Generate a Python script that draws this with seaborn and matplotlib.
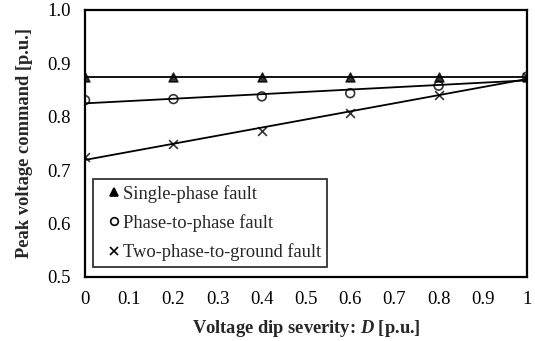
import numpy as np
import pandas as pd
import matplotlib
matplotlib.use("Agg")
import matplotlib.pyplot as plt
import seaborn as sns
from matplotlib.lines import Line2D

severity = [0.0, 0.2, 0.4, 0.6, 0.8, 1.0]
single_phase = [0.875, 0.875, 0.875, 0.875, 0.875, 0.875]
phase_to_phase = [0.831, 0.833, 0.838, 0.844, 0.858, 0.875]
two_phase_ground = [0.725, 0.748, 0.774, 0.806, 0.841, 0.875]
series_names = ["Single-phase fault", "Phase-to-phase fault", "Two-phase-to-ground fault"]
x_ticks = [0, 0.1, 0.2, 0.3, 0.4, 0.5, 0.6, 0.7, 0.8, 0.9, 1]
x_tick_labels = ["0", "0.1", "0.2", "0.3", "0.4", "0.5", "0.6", "0.7", "0.8", "0.9", "1"]
y_ticks = [0.5, 0.6, 0.7, 0.8, 0.9, 1.0]
y_tick_labels = ["0.5", "0.6", "0.7", "0.8", "0.9", "1.0"]

sns.set_theme(style="white")
plt.rcParams["font.family"] = ["Liberation Serif", "DejaVu Serif"]
plt.rcParams["mathtext.fontset"] = "custom"
plt.rcParams["mathtext.bfit"] = "Liberation Serif:italic:bold"
plt.rcParams["mathtext.it"] = "Liberation Serif:italic:bold"

fig = plt.figure(figsize=(5.35, 3.41), dpi=100)
ax = fig.add_axes([0.159, 0.188, 0.826, 0.783])

styles = [
    dict(marker="^", color="black", facecolor="black"),
    dict(marker="o", color="black", facecolor="none"),
    dict(marker="x", color="black", facecolor="black"),
]
data_sets = [single_phase, phase_to_phase, two_phase_ground]
handles = []
for name, vals, st in zip(series_names, data_sets, styles):
    df = pd.DataFrame({"x": severity, "y": vals})
    sns.regplot(data=df, x="x", y="y", ax=ax, ci=None, truncate=True,
                marker=st["marker"],
                scatter_kws=dict(s=40, facecolors=st["facecolor"], edgecolors="black",
                                 linewidths=1.2, color="black", zorder=3),
                line_kws=dict(color="black", lw=1.3, zorder=2))
    handles.append(Line2D([], [], ls="none", marker=st["marker"], markersize=5.5,
                          markerfacecolor=st["facecolor"], markeredgecolor="black",
                          markeredgewidth=1.2, label=name))

ax.set_xlim(0, 1)
ax.set_ylim(0.5, 1.0)
ax.set_xticks(x_ticks)
ax.set_xticklabels(x_tick_labels)
ax.set_yticks(y_ticks)
ax.set_yticklabels(y_tick_labels)
ax.tick_params(direction="in", length=4, width=1.3, labelsize=13.5, colors="black")
ax.tick_params(axis="y", pad=10.5)
ax.tick_params(axis="x", pad=10)
for sp in ax.spines.values():
    sp.set_visible(True)
    sp.set_color("black")
    sp.set_linewidth(1.6)
ax.set_xlabel(r"Voltage dip severity: $\mathit{D}$ [p.u.]", fontsize=13.3, fontweight="bold", labelpad=7)
ax.set_ylabel("Peak voltage command [p.u.]", fontsize=13.3, fontweight="bold", labelpad=10)

leg = ax.legend(handles=handles, loc="lower left", bbox_to_anchor=(0.018, 0.038),
                fontsize=13.3, frameon=True, fancybox=False, handlelength=1.7,
                handletextpad=-0.38, borderpad=0.3, labelspacing=0.62, borderaxespad=0)
leg.get_frame().set_edgecolor("black")
leg.get_frame().set_linewidth(1.3)

fig.savefig("out.png", dpi=100)
